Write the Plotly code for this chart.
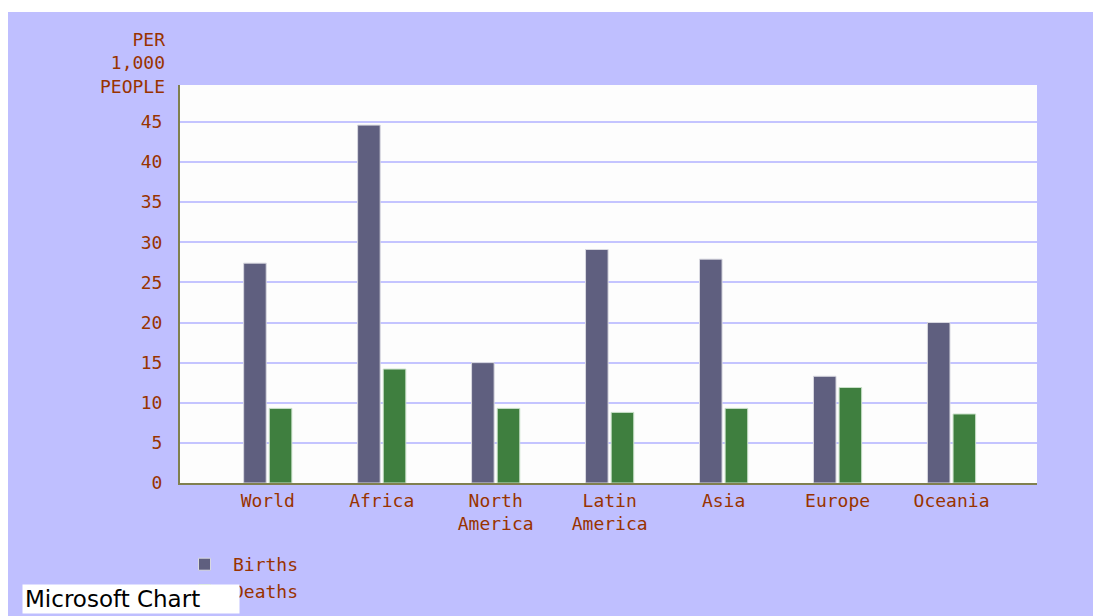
import plotly.graph_objects as go

regions = ["World", "Africa", "North<br>America", "Latin<br>America", "Asia", "Europe", "Oceania"]
births = [27.4, 44.6, 15.0, 29.1, 27.9, 13.3, 20.0]
deaths = [9.3, 14.2, 9.3, 8.8, 9.3, 11.9, 8.6]
y_ticks = [0, 5, 10, 15, 20, 25, 30, 35, 40, 45]

FONT = "DejaVu Sans Mono"
TXT = "#993300"
LAV = "#bfbfff"

W, H = 1093, 608          # page body margin of 8px makes this fill 1101x616
L, R, T, B = 172, 64, 77, 133
PW, PH = W - L - R, H - T - B


def px(x):
    return (x - L) / PW


def py(y):
    return (H - B - y) / PH


fig = go.Figure()
fig.add_trace(go.Bar(x=regions, y=births, name="Births",
                     marker=dict(color="#5f5f7f", line=dict(color="#d8d8e0", width=1))))
fig.add_trace(go.Bar(x=regions, y=deaths, name="Deaths",
                     marker=dict(color="#3f7f3f", line=dict(color="#c8e0c8", width=1))))

fig.update_layout(
    width=W, height=H,
    margin=dict(l=L, r=R, t=T, b=B, autoexpand=False),
    paper_bgcolor=LAV, plot_bgcolor="#fdfdfd",
    barmode="group", bargap=0.55, bargroupgap=0.12,
    font=dict(family=FONT, size=18, color=TXT),
    showlegend=True,
    legend=dict(x=px(168), y=py(538), xanchor="left", yanchor="top",
                bgcolor="rgba(0,0,0,0)", font=dict(family=FONT, size=18, color=TXT),
                tracegroupgap=2, itemwidth=47),
    xaxis=dict(range=[-0.77, 6.75], showgrid=False, showline=True, linecolor="#80804f",
               linewidth=2, ticks="", tickfont=dict(family=FONT, size=18, color=TXT)),
    yaxis=dict(range=[0, 49.6], tickvals=y_ticks, showgrid=True, gridcolor="#c4c4ff",
               gridwidth=1.5, showline=True, linecolor="#80804f", linewidth=2,
               ticks="outside", ticklen=12, tickcolor="rgba(0,0,0,0)",
               tickfont=dict(family=FONT, size=18, color=TXT), zeroline=False),
    annotations=[
        dict(text="PER<br>1,000<br>PEOPLE", xref="paper", yref="paper",
             x=px(159), y=py(19), xanchor="right", yanchor="top", align="right",
             showarrow=False, font=dict(family=FONT, size=18, color=TXT)),
        dict(text="Microsoft Chart", xref="paper", yref="paper",
             x=px(14), y=py(606), xanchor="left", yanchor="bottom",
             showarrow=False, bgcolor="white", width=212, height=24, align="left",
             borderpad=2,
             font=dict(family="DejaVu Sans", size=23, color="black")),
    ],
    shapes=[
        dict(type="rect", xref="paper", yref="paper", layer="above",
             x0=-0.3, x1=1.2, y0=py(4), y1=1.4,
             fillcolor="white", line=dict(width=0)),
    ],
)

fig.write_html("out.html")
